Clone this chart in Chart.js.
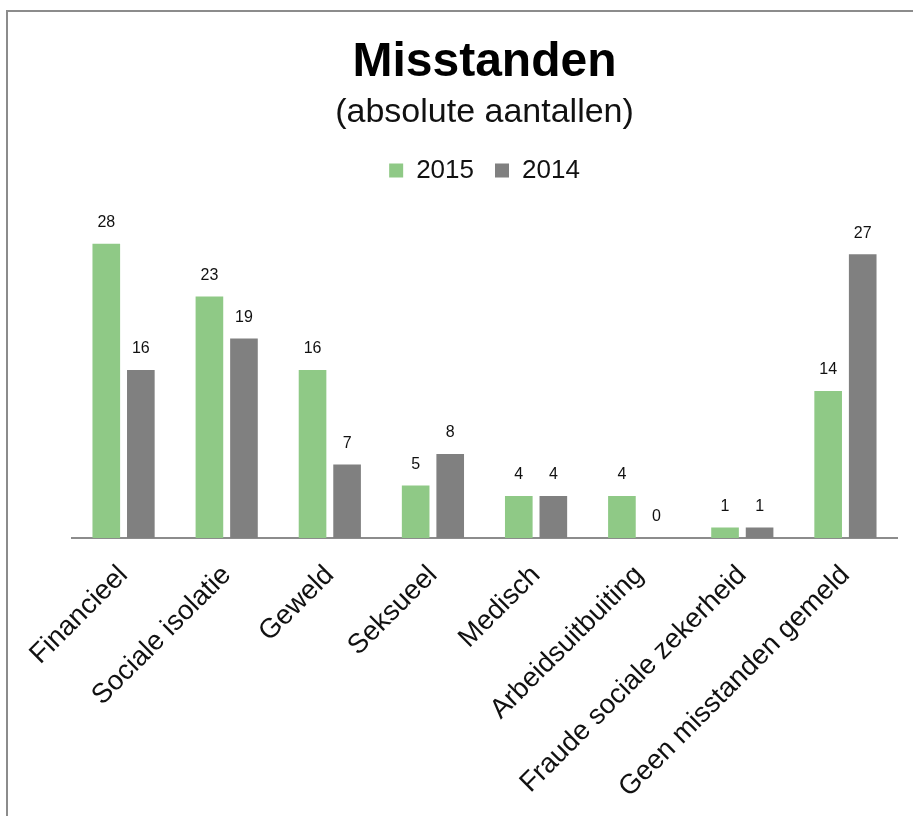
<!DOCTYPE html>
<html>
<head>
<meta charset="utf-8">
<title>Misstanden</title>
<script src="https://cdn.jsdelivr.net/npm/chart.js@4.4.1/dist/chart.umd.min.js"></script>
<style>
    html, body { margin: 0; padding: 0; background: #fff; }
    #wrap { position: relative; width: 913px; height: 816px; }
    #frame {
        position: absolute; left: 6px; top: 10px; right: -4px; bottom: -4px;
        border-left: 2px solid #8c8c8c; border-top: 2px solid #8c8c8c;
        pointer-events: none;
    }
</style>
</head>
<body>
<div id="wrap">
    <canvas id="misstandenChart"></canvas>
    <div id="frame"></div>
</div>
<script>
const categories = [
    'Financieel', 'Sociale isolatie', 'Geweld', 'Seksueel', 'Medisch',
    'Arbeidsuitbuiting', 'Fraude sociale zekerheid', 'Geen misstanden gemeld'
];
const values2015 = [28, 23, 16, 5, 4, 4, 1, 14];
const values2014 = [16, 19, 7, 8, 4, 0, 1, 27];
const seriesLabels = ['2015', '2014'];

const FONT = "'Liberation Sans', Arial, Helvetica, sans-serif";

// values above the bars
const valueLabels = {
    id: 'valueLabels',
    afterDatasetsDraw(chart) {
        const ctx = chart.ctx;
        ctx.save();
        ctx.font = '16px ' + FONT;
        ctx.fillStyle = '#111';
        ctx.textAlign = 'center';
        ctx.textBaseline = 'middle';
        chart.data.datasets.forEach((ds, i) => {
            chart.getDatasetMeta(i).data.forEach((bar, j) => {
                ctx.fillText(String(ds.data[j]), bar.x, bar.y - 21);
            });
        });
        ctx.restore();
    }
};

new Chart(document.getElementById('misstandenChart'), {
    type: 'bar',
    data: {
        labels: categories,
        datasets: [{
            label: seriesLabels[0],
            data: values2015,
            backgroundColor: '#8fc986',
            categoryPercentage: 0.67,
            barPercentage: 0.8
        }, {
            label: seriesLabels[1],
            data: values2014,
            backgroundColor: '#808080',
            categoryPercentage: 0.67,
            barPercentage: 0.8
        }]
    },
    options: {
        responsive: true,
        maintainAspectRatio: false,
        animation: false,
        layout: { padding: { left: 72, right: 16, top: 0, bottom: -9 } },
        plugins: {
            title: {
                display: true,
                text: 'Misstanden',
                color: '#000',
                font: { family: FONT, size: 48, weight: 'bold', lineHeight: 1.2 },
                padding: { top: 34, bottom: 0 }
            },
            subtitle: {
                display: true,
                text: '(absolute aantallen)',
                color: '#111',
                font: { family: FONT, size: 34, lineHeight: 1.2 },
                padding: { top: 1, bottom: 3 }
            },
            legend: {
                display: true,
                labels: {
                    color: '#111',
                    font: { family: FONT, size: 26 },
                    boxWidth: 14,
                    boxHeight: 14,
                    padding: 21
                }
            },
            tooltip: { enabled: false }
        },
        scales: {
            x: {
                grid: { display: false, drawTicks: false },
                border: { display: true, color: '#8c8c8c', width: 2 },
                ticks: {
                    color: '#111',
                    font: { family: FONT, size: 27.5 },
                    minRotation: 45,
                    maxRotation: 45,
                    padding: 21,
                    autoSkip: false
                }
            },
            y: {
                display: false,
                min: 0,
                max: 32.8
            }
        }
    },
    plugins: [valueLabels]
});
</script>
</body>
</html>
